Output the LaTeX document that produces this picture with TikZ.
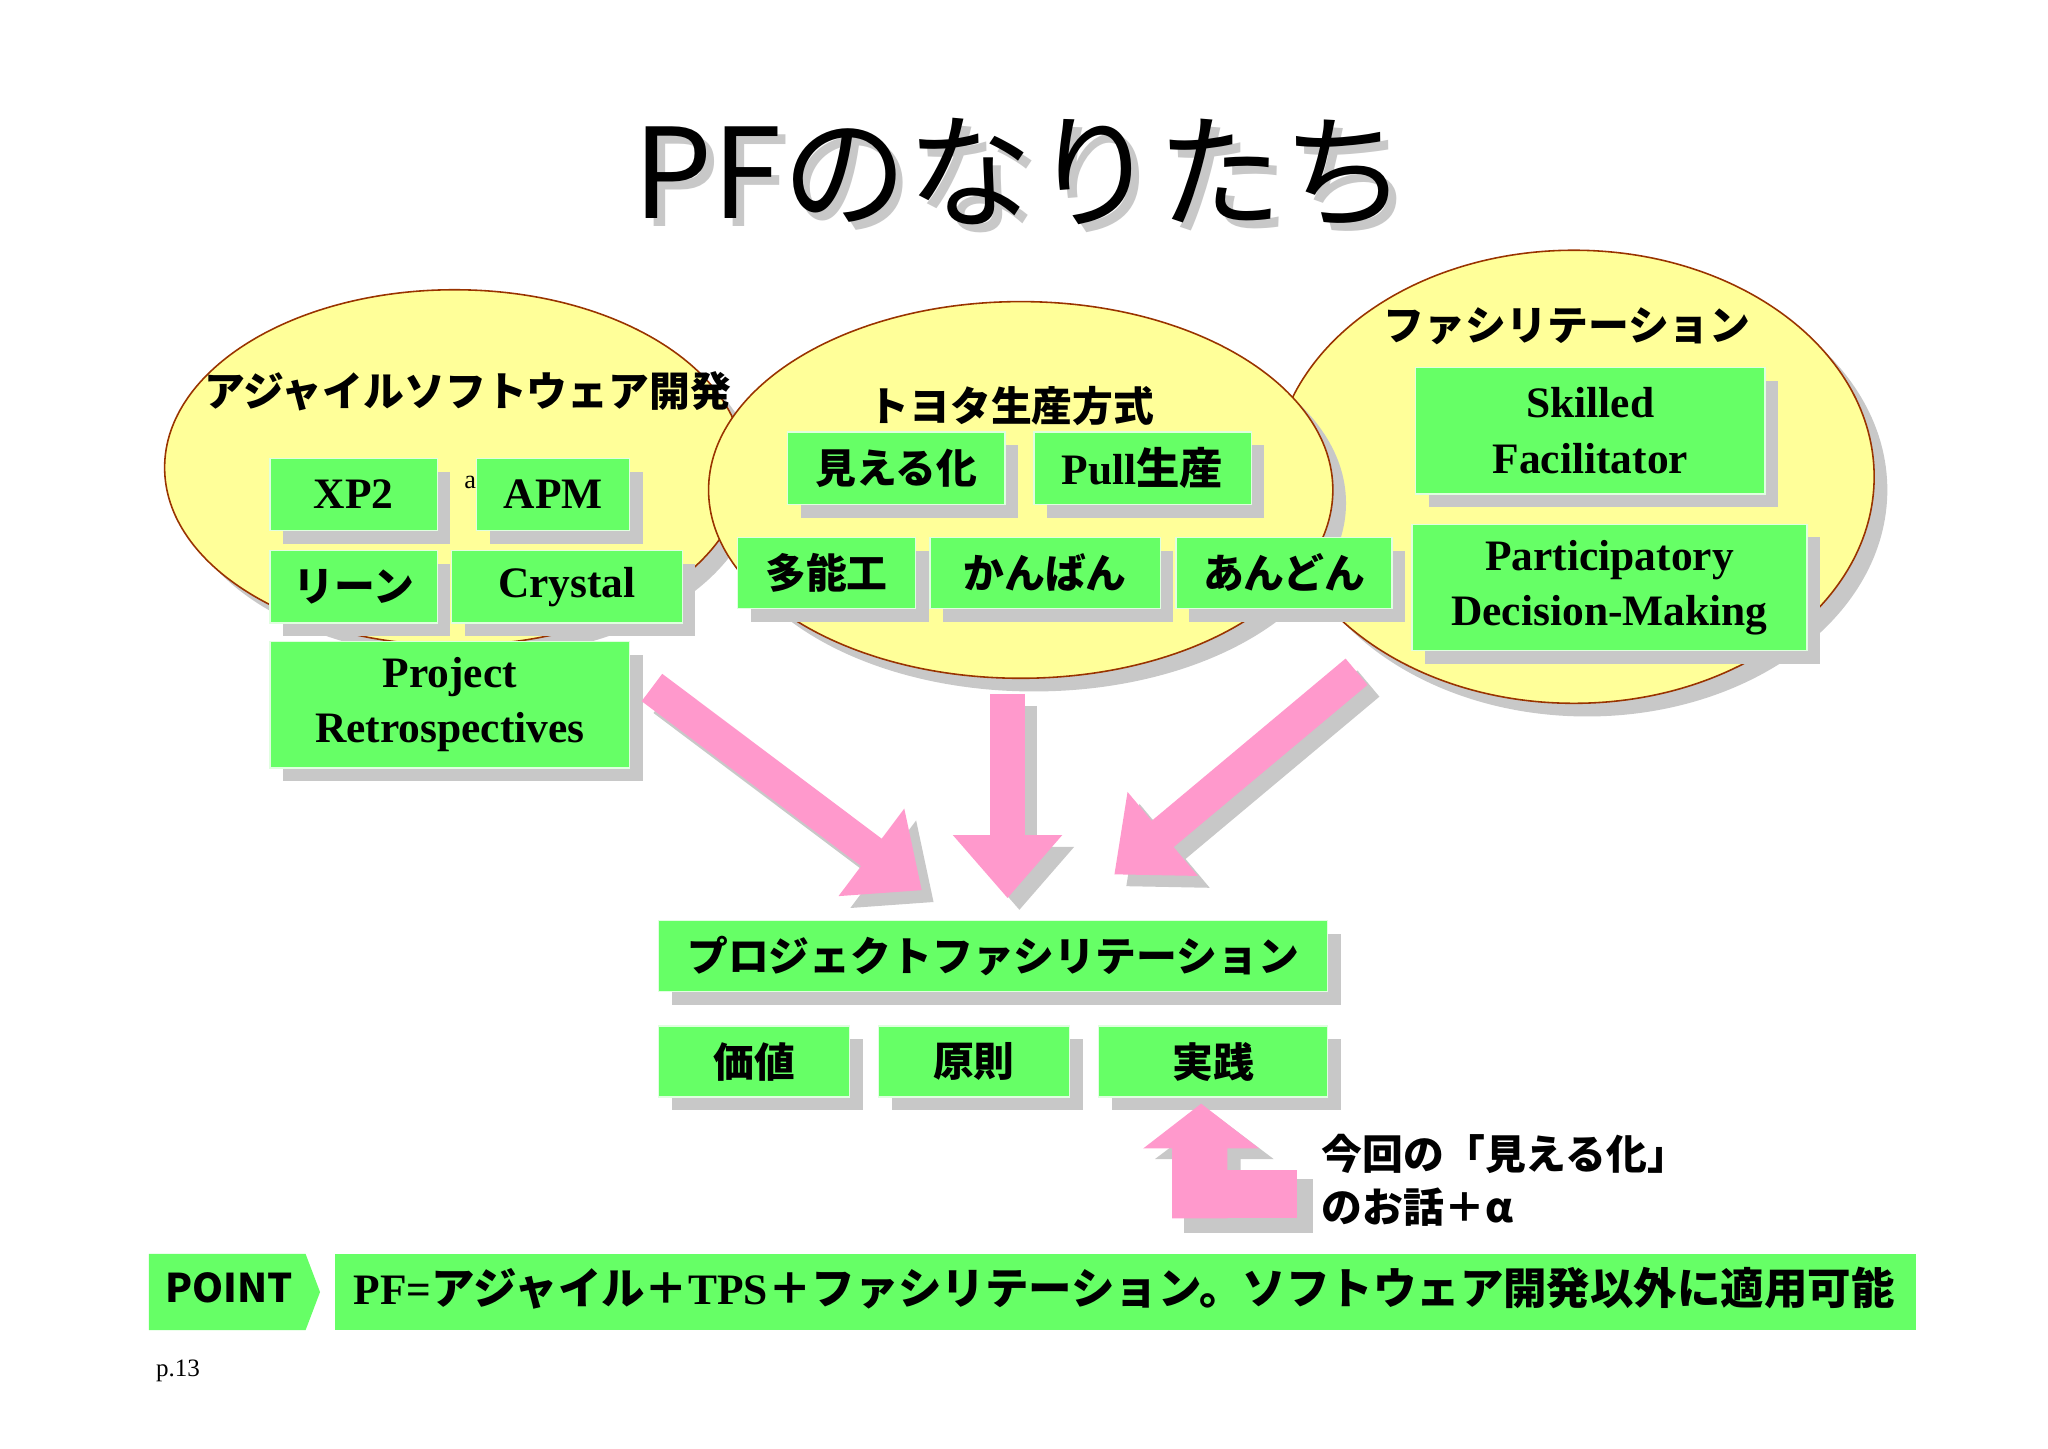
\documentclass[tikz,border=0pt]{standalone}
\usepackage{fontspec}
\setmainfont{Liberation Serif}
\newfontfamily\jp{Noto Sans CJK JP}
\usetikzlibrary{shadows,arrows.meta}
\definecolor{gfill}{HTML}{66FF66}
\definecolor{yfill}{HTML}{FFFF99}
\definecolor{eline}{HTML}{993300}
\definecolor{pk}{HTML}{FF99CC}
\definecolor{shd}{HTML}{C8C8C8}
\begin{document}
\begin{tikzpicture}[x=1pt,y=-1pt,
  gbox/.style={rectangle,fill=gfill,draw=white!80!gfill,line width=1pt,inner sep=0pt,align=center,
    font=\fontsize{33}{42}\selectfont\bfseries,
    drop shadow={shadow xshift=10pt,shadow yshift=-10pt,fill=shd,opacity=1}},
  ell/.style={fill=yfill,draw=eline,line width=1.2pt,
    drop shadow={shadow xshift=10pt,shadow yshift=-10pt,fill=shd,opacity=1}},
  lab/.style={font=\jp\bfseries\fontsize{31}{36}\selectfont},
  parr/.style={draw=pk,line width=26pt,-{Triangle[length=48pt,width=80pt]}},
  sarr/.style={draw=shd,line width=26pt,-{Triangle[length=48pt,width=80pt]}}]
\useasboundingbox (0,0) rectangle (1555,1100);
\fill[white] (0,0) rectangle (1555,1100);
% title
\node[font=\jp\fontsize{95}{100}\selectfont,text=shd] at (781,137) {PFのなりたち};
\node[font=\jp\fontsize{95}{100}\selectfont] (title) at (775,131) {PFのなりたち};
% ellipses
\draw[ell] (345,355) ellipse [x radius=220,y radius=135];
\draw[ell] (1195,362) ellipse [x radius=228,y radius=172];
\draw[ell] (775,372) ellipse [x radius=237,y radius=143];
\node[lab] (l1) at (355,297) {アジャイルソフトウェア開発};
\node[lab] (l2) at (768,308) {トヨタ生産方式};
\node[lab] (l3) at (1190,248) {ファシリテーション};
\node[font=\fontsize{20}{20}\selectfont] (a) at (357,366) {a};
% boxes
\node[gbox,minimum width=127pt,minimum height=55pt] (xp2) at (268.5,375.5) {XP2};
\node[gbox,minimum width=116pt,minimum height=55pt] (apm) at (420,375.5) {APM};
\node[gbox,minimum width=127pt,minimum height=55pt,font=\jp\bfseries\fontsize{31}{36}\selectfont] (lean) at (268.5,445.5) {リーン};
\node[gbox,minimum width=175pt,minimum height=55pt] (cry) at (430.5,445.5) {Crystal};
\node[gbox,minimum width=273pt,minimum height=96pt] (pr) at (341.5,535) {Project\\Retrospectives};
\node[gbox,minimum width=165pt,minimum height=55pt,font=\jp\bfseries\fontsize{31}{36}\selectfont] (mie) at (680.5,355.5) {見える化};
\node[gbox,minimum width=165pt,minimum height=55pt] (pull) at (867.5,355.5) {Pull{\jp 生産}};
\node[gbox,minimum width=135pt,minimum height=54pt,font=\jp\bfseries\fontsize{31}{36}\selectfont] (tano) at (627.5,435) {多能工};
\node[gbox,minimum width=175pt,minimum height=54pt,font=\jp\bfseries\fontsize{31}{36}\selectfont] (kan) at (793.5,435) {かんばん};
\node[gbox,minimum width=164pt,minimum height=54pt,font=\jp\bfseries\fontsize{31}{36}\selectfont] (and) at (975,435) {あんどん};
\node[gbox,minimum width=265pt,minimum height=96pt] (sf) at (1207.5,327) {Skilled\\Facilitator};
\node[gbox,minimum width=300pt,minimum height=96pt] (pdm) at (1222,446) {Participatory\\Decision-Making};
\node[gbox,minimum width=508pt,minimum height=54pt,font=\jp\bfseries\fontsize{31}{36}\selectfont] (pf) at (754,726) {プロジェクトファシリテーション};
\node[gbox,minimum width=145pt,minimum height=54pt,font=\jp\bfseries\fontsize{31}{36}\selectfont] (kachi) at (572.5,806) {価値};
\node[gbox,minimum width=145pt,minimum height=54pt,font=\jp\bfseries\fontsize{31}{36}\selectfont] (gen) at (739.5,806) {原則};
\node[gbox,minimum width=174pt,minimum height=54pt,font=\jp\bfseries\fontsize{31}{36}\selectfont] (jis) at (921,806) {実践};
% arrows
\coordinate (a1s) at (495,522); \coordinate (a1e) at (700,676);
\coordinate (a2s) at (765,527); \coordinate (a2e) at (765,682);
\coordinate (a3s) at (1030,510); \coordinate (a3e) at (846,664);
\foreach \s/\e in {a1s/a1e,a2s/a2e,a3s/a3e}{
  \draw[sarr] ([shift={(9,9)}]\s) -- ([shift={(9,9)}]\e);
  \draw[parr] (\s) -- (\e);}
% bent arrow
\fill[shd] (902,895) -- (997,895) -- (997,936) -- (902,936) -- cycle;
\fill[shd] (899,880) -- (899,936) -- (942,936) -- (942,880) -- (967,880) -- (922,846) -- (877,880) -- cycle;
\fill[pk] (890,888) -- (985,888) -- (985,925) -- (890,925) -- cycle;
\fill[pk] (890,872) -- (890,925) -- (932,925) -- (932,872) -- (956,872) -- (912,838) -- (868,872) -- cycle;
\node[lab,anchor=west,align=left,font=\jp\bfseries\fontsize{31}{40}\selectfont] (note) at (1000,896) {今回の「見える化」\\のお話＋{\itshape α}};
% point bar
\fill[gfill] (113,952) -- (232,952) -- (243,981) -- (232,1010) -- (113,1010) -- cycle;
\node[font=\jp\bfseries\fontsize{30}{30}\selectfont,anchor=west] (point) at (122,978) {POINT};
\fill[gfill] (254,952) rectangle (1455,1010);
\node[anchor=west,font=\fontsize{33}{33}\selectfont\bfseries] (pt) at (265,978) {PF={\jp アジャイル＋}TPS{\jp ＋ファシリテーション。ソフトウェア開発以外に適用可能}};
\node[anchor=west,font=\fontsize{19}{19}\selectfont] (pg) at (115,1041) {p.13};
\end{tikzpicture}
\end{document}
